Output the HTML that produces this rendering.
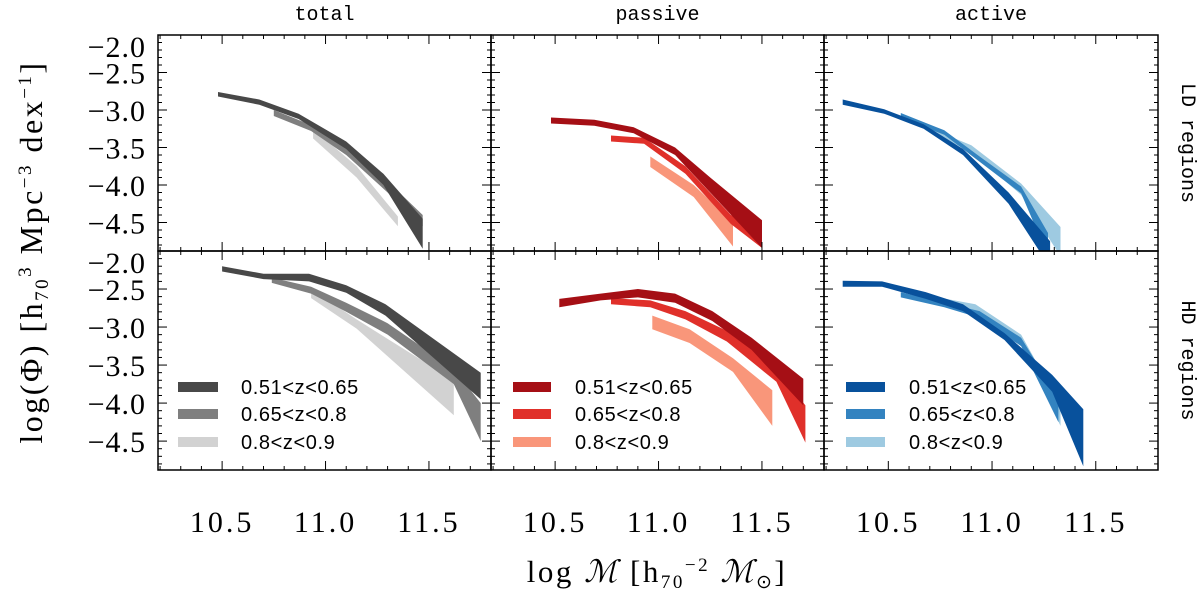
<!DOCTYPE html>
<html><head><meta charset="utf-8">
<style>
html,body{margin:0;padding:0;background:#fff;}
svg{display:block;}
text{font-family:"Liberation Serif",serif;fill:#000;}
.mono{font-family:"Liberation Mono",monospace;}
.leg{font-family:"Liberation Sans",sans-serif;font-size:20px;letter-spacing:0.6px;}
</style></head>
<body>
<svg id="chart" width="1200" height="589" viewBox="0 0 1200 589">
</svg>
<script>
// ---- data ----
const columns = ["total","passive","active"];
const rows = ["LD regions","HD regions"];
const legendLabels = ["0.51<z<0.65","0.65<z<0.8","0.8<z<0.9"];
const xTicks = [10.5,11.0,11.5];
const xTickLabels = ["10.5","11.0","11.5"];
const yTicks = [-2.0,-2.5,-3.0,-3.5,-4.0,-4.5];
const yTickLabels = ["\u22122.0","\u22122.5","\u22123.0","\u22123.5","\u22124.0","\u22124.5"];
const palettes = [["#484848","#7f7f7f","#d2d2d2"],["#a50f15","#e0302a","#f9967a"],["#08519c","#3383c0","#9ecae1"]];

// each band: x, upper, lower  — order [row][col][series]
const totalLD_x = [[10.48,10.68,10.87,11.1,11.28,11.47],[10.75,10.93,11.1,11.3,11.47],[10.94,11.15,11.35]];
const totalLD_hi = [[-2.76,-2.86,-3.05,-3.42,-3.85,-4.45],[-3.0,-3.2,-3.5,-3.95,-4.4],[-3.25,-3.75,-4.42]];
const totalLD_lo = [[-2.82,-2.93,-3.12,-3.52,-4.0,-4.85],[-3.08,-3.28,-3.6,-4.1,-4.55],[-3.38,-3.9,-4.55]];
const passiveLD_x = [[10.48,10.69,10.88,11.08,11.25,11.5],[10.77,10.93,11.13,11.35,11.5],[10.96,11.17,11.36]];
const passiveLD_hi = [[-3.1,-3.13,-3.23,-3.5,-3.9,-4.47],[-3.34,-3.37,-3.75,-4.4,-4.62],[-3.62,-4.0,-4.5]];
const passiveLD_lo = [[-3.18,-3.21,-3.31,-3.6,-4.1,-4.84],[-3.42,-3.45,-3.85,-4.52,-4.84],[-3.76,-4.16,-4.82]];
const activeLD_x = [[10.28,10.48,10.67,10.86,11.08,11.28],[10.56,10.77,10.94,11.14,11.27],[10.68,10.9,11.14,11.33]];
const activeLD_hi = [[-2.86,-2.99,-3.19,-3.52,-4.1,-4.75],[-3.04,-3.27,-3.62,-4.02,-4.64],[-3.22,-3.47,-3.98,-4.56]];
const activeLD_lo = [[-2.93,-3.05,-3.25,-3.6,-4.25,-5.1],[-3.11,-3.33,-3.69,-4.11,-4.95],[-3.27,-3.56,-4.13,-4.95]];
const totalHD_x = [[10.5,10.7,10.92,11.1,11.29,11.75],[10.74,10.93,11.1,11.3,11.62,11.75],[10.93,11.15,11.62]];
const totalHD_hi = [[-2.2,-2.3,-2.3,-2.45,-2.7,-3.6],[-2.35,-2.47,-2.68,-2.95,-3.55,-4.0],[-2.5,-2.9,-3.7]];
const totalHD_lo = [[-2.27,-2.37,-2.4,-2.55,-2.85,-3.95],[-2.42,-2.56,-2.8,-3.1,-3.75,-4.5],[-2.62,-3.02,-4.16]];
const passiveHD_x = [[10.52,10.72,10.9,11.08,11.26,11.45,11.7],[10.77,10.96,11.13,11.33,11.57,11.71],[10.97,11.15,11.36,11.55]];
const passiveHD_hi = [[-2.63,-2.56,-2.5,-2.56,-2.79,-3.14,-3.68],[-2.62,-2.65,-2.79,-3.05,-3.54,-4.03],[-2.85,-3.03,-3.41,-3.83]];
const passiveHD_lo = [[-2.74,-2.65,-2.61,-2.68,-2.92,-3.3,-4.03],[-2.7,-2.74,-2.9,-3.19,-3.72,-4.52],[-3.03,-3.21,-3.59,-4.3]];
const activeHD_x = [[10.28,10.47,10.68,10.86,11.06,11.29,11.44],[10.56,10.77,10.94,11.14,11.32],[10.68,10.92,11.14,11.33]];
const activeHD_hi = [[-2.39,-2.4,-2.54,-2.7,-3.08,-3.63,-4.08],[-2.54,-2.68,-2.79,-3.14,-3.94],[-2.58,-2.7,-3.1,-4.03]];
const activeHD_lo = [[-2.47,-2.47,-2.63,-2.79,-3.17,-3.85,-4.83],[-2.61,-2.74,-2.88,-3.25,-4.25],[-2.64,-2.79,-3.2,-4.3]];

const bands = [
  [[totalLD_x,totalLD_hi,totalLD_lo],[passiveLD_x,passiveLD_hi,passiveLD_lo],[activeLD_x,activeLD_hi,activeLD_lo]],
  [[totalHD_x,totalHD_hi,totalHD_lo],[passiveHD_x,passiveHD_hi,passiveHD_lo],[activeHD_x,activeHD_hi,activeHD_lo]]
];

// ---- layout ----
const colX = [158,491,824,1158];
const rowY = [35,251,470];
const xMin = 10.19, xMax = 11.80, yTop = -2.0, yBot = -4.88;
const NS = "http://www.w3.org/2000/svg";
const svg = document.getElementById("chart");
function el(tag, attrs, parent){ const e=document.createElementNS(NS,tag); for(const k in attrs) e.setAttribute(k,attrs[k]); (parent||svg).appendChild(e); return e; }
function xs(c,v){ return colX[c] + (v-xMin)/(xMax-xMin)*(colX[c+1]-colX[c]); }
function ys(r,v){ return rowY[r] + (yTop-v)/(yTop-yBot)*(rowY[r+1]-rowY[r]); }

const defs = el("defs",{});
for(let r=0;r<2;r++){
  for(let c=0;c<3;c++){
    const cp = el("clipPath",{id:"cp"+r+c},defs);
    el("rect",{x:colX[c],y:rowY[r],width:colX[c+1]-colX[c],height:rowY[r+1]-rowY[r]},cp);
    const g = el("g",{"clip-path":"url(#cp"+r+c+")"});
    
    
    const [X,H,L] = bands[r][c];
    for(let s=2;s>=0;s--){
      const pts=[];
      for(let i=0;i<X[s].length;i++) pts.push(xs(c,X[s][i]).toFixed(1)+","+ys(r,H[s][i]).toFixed(1));
      for(let i=X[s].length-1;i>=0;i--) pts.push(xs(c,X[s][i]).toFixed(1)+","+ys(r,L[s][i]).toFixed(1));
      const p = el("polygon",{points:pts.join(" "),fill:palettes[c][s]},g);
      
      
    }
    const tg = el("g",{stroke:"#000","stroke-width":1});
    const x0=colX[c],x1=colX[c+1],y0=rowY[r],y1=rowY[r+1];
    for(let k=0;k<=16;k++){
      const v=10.2+k*0.1; if(v>xMax) break;
      const xx=xs(c,v); const maj=Math.abs(v*2-Math.round(v*2))<1e-6; const len=maj?9:4;
      el("line",{x1:xx,y1:y1,x2:xx,y2:y1-len},tg); el("line",{x1:xx,y1:y0,x2:xx,y2:y0+len},tg);
    }
    for(let k=0;k<=28;k++){
      const v=-2.0-k*0.1; if(v<yBot) break;
      const yy=ys(r,v); const maj=k%5===0; const len=maj?9:4;
      el("line",{x1:x0,y1:yy,x2:x0+len,y2:yy},tg); el("line",{x1:x1,y1:yy,x2:x1-len,y2:yy},tg);
    }
    el("rect",{x:x0,y:y0,width:x1-x0,height:y1-y0,fill:"none",stroke:"#000","stroke-width":1.5});
  }
}
// y tick labels
for(let r=0;r<2;r++){
  yTicks.forEach((v,i)=>{
    let yy=ys(r,v)+11; if(i===0) yy=ys(r,v)+22;
    const t=el("text",{x:146,y:yy,"text-anchor":"end","font-size":30,"letter-spacing":1});
    t.textContent=yTickLabels[i];
    
    
  });
}
// x tick labels
for(let c=0;c<3;c++){
  xTicks.forEach((v,i)=>{
    const t=el("text",{x:xs(c,v),y:532,"text-anchor":"middle","font-size":30,"letter-spacing":3});
    t.textContent=xTickLabels[i];
    
    
  });
  const t=el("text",{x:(colX[c]+colX[c+1])/2,y:20,"text-anchor":"middle","font-size":20,"class":"mono"});
  t.textContent=columns[c];
  
  
}
// row labels
rows.forEach((lab,r)=>{
  const cy=(rowY[r]+rowY[r+1])/2, cx=1182;
  const t=el("text",{x:cx,y:cy,"text-anchor":"middle","font-size":20,transform:"rotate(90 "+cx+" "+cy+")","class":"mono"});
  t.textContent=lab;
  
  
});
// legends
const legSw=[[178,218,241],[513,551,575],[846,885,909]];
const legY=[387,414,442];
for(let c=0;c<3;c++){
  for(let s=0;s<3;s++){
    const r=el("rect",{x:legSw[c][0],y:legY[s]-5,width:legSw[c][1]-legSw[c][0],height:10,fill:palettes[c][s]});
    
    
    const t=el("text",{x:legSw[c][2],y:legY[s]+7,"class":"leg"});
    t.textContent=legendLabels[s];
    
    
  }
}
// axis titles
const xt=el("text",{x:657,y:582,"text-anchor":"middle","font-size":31,"letter-spacing":2.5});
xt.innerHTML='log <tspan font-style="italic">ℳ</tspan> [h<tspan font-size="19" dy="6">70</tspan><tspan font-size="19" dy="-17">−2</tspan><tspan dy="11"> <tspan font-style="italic">ℳ</tspan></tspan><tspan font-size="19" dy="6">⊙</tspan><tspan dy="-6">]</tspan>';


const yt=el("text",{x:42,y:252,"text-anchor":"middle","font-size":32,"letter-spacing":2.5,transform:"rotate(-90 42 252)"});
yt.innerHTML='log(Φ) [h<tspan font-size="19" dy="6">70</tspan><tspan font-size="19" dy="-17">3</tspan><tspan dy="11"> Mpc</tspan><tspan font-size="19" dy="-11">−3</tspan><tspan dy="11"> dex</tspan><tspan font-size="19" dy="-11">−1</tspan><tspan dy="11">]</tspan>';


</script>
</body></html>
